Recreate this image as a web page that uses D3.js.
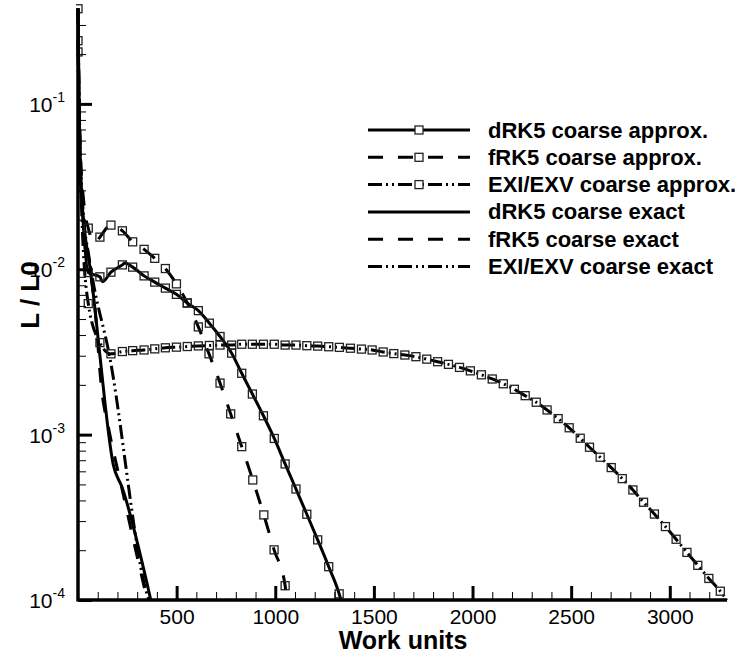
<!DOCTYPE html>
<html><head><meta charset="utf-8">
<script src="https://cdn.jsdelivr.net/npm/d3@7"></script>
<style>
body{margin:0;background:#fff}
svg{display:block}
text{font-family:"Liberation Sans",Arial,Helvetica,sans-serif;fill:#000}
</style>
</head><body>
<svg id="chart" width="749" height="658"></svg>
<script>
// [work units, L/L0, marker flag]
const dRK5Approx = [
  [0,0.376,1],[8,0.05,0],[25,0.02,0],[52,0.00955,1],[111,0.0090,1],[124,0.0084,0],[167,0.0096,1],
  [225,0.01063,1],[238,0.0109,0],[277,0.0103,1],[335,0.00912,1],[389,0.00836,1],[443,0.00769,1],
  [499,0.00705,1],[554,0.00624,1],[610,0.00562,1],[666,0.00472,1],[720,0.00392,1],[779,0.00311,1],
  [830,0.00235,1],[884,0.00176,1],[940,0.0013,1],[995,0.000948,1],[1050,0.000665,1],[1105,0.000469,1],
  [1160,0.00033,1],[1215,0.000231,1],[1271,0.000159,1],[1324,0.000109,1],[1333,0.0001,0]
];
const fRK5Approx = [
  [0,0.241,1],[10,0.06,0],[30,0.025,0],[52,0.01773,1],[88,0.0144,0],[111,0.01564,1],[167,0.01849,1],
  [225,0.01708,1],[277,0.01465,1],[335,0.01319,1],[389,0.01164,1],[443,0.0101,1],[499,0.00816,1],
  [554,0.00626,1],[610,0.00448,1],[664,0.00308,1],[720,0.00205,1],[774,0.001335,1],[830,0.000846,1],
  [886,0.000532,1],[942,0.000327,1],[994,0.000201,1],[1050,0.000122,1],[1060,0.0001,0]
];
const exiApprox = [
  [0,0.206,1],[20,0.02,0],[52,0.0062,1],[111,0.0036,1],[167,0.00308,1],[225,0.00318,1],[277,0.00322,1],
  [335,0.00325,1],[389,0.0033,1],[443,0.00335,1],[499,0.00338,1],[554,0.00341,1],[610,0.00344,1],
  [666,0.00346,1],[720,0.00348,1],[779,0.00348,1],[830,0.00352,1],[884,0.00352,1],[940,0.00352,1],
  [995,0.00352,1],[1050,0.00348,1],[1105,0.00348,1],[1160,0.00345,1],[1215,0.00343,1],[1271,0.0034,1],
  [1325,0.00337,1],[1381,0.00333,1],[1437,0.00329,1],[1491,0.00325,1],[1547,0.00316,1],[1601,0.00309,1],
  [1657,0.00303,1],[1713,0.00296,1],[1768,0.00286,1],[1823,0.00276,1],[1878,0.00266,1],[1934,0.00255,1],
  [1989,0.00243,1],[2045,0.0023,1],[2100,0.00217,1],[2156,0.00203,1],[2212,0.00188,1],[2267,0.00172,1],
  [2323,0.00157,1],[2378,0.00141,1],[2434,0.00125,1],[2490,0.0011,1],[2546,0.000951,1],[2593,0.000839,1],
  [2647,0.00073,1],[2703,0.000632,1],[2759,0.000542,1],[2813,0.000463,1],[2867,0.00039,1],[2922,0.000331,1],
  [2978,0.000278,1],[3032,0.000233,1],[3087,0.000194,1],[3142,0.000162,1],[3198,0.000135,1],[3256,0.000113,1],
  [3290,0.0001,0]
];
const dRK5Exact = [
  [0,0.376],[5,0.1],[10,0.0527],[20,0.0263],[61,0.0102],[81,0.00653],[108,0.00325],
  [179,0.000656],[222,0.000485],[369,0.0001]
];
const fRK5Exact = [
  [0,0.376],[5,0.1],[10,0.053],[20,0.027],[60,0.0105],[85,0.006],[120,0.00186],[154,0.00111],
  [222,0.000476],[289,0.000209],[351,0.0001]
];
const exiExact = [
  [0,0.376],[5,0.12],[12,0.05],[25,0.024],[55,0.012],[78,0.00824],[154,0.00325],[356,0.000103],[360,0.0001]
];

const seriesNames = [
  "dRK5 coarse approx.","fRK5 coarse approx.","EXI/EXV coarse approx.",
  "dRK5 coarse exact","fRK5 coarse exact","EXI/EXV coarse exact"
];
const xMajorTicks = [500,1000,1500,2000,2500,3000];
const xMinorTicks = [100,200,300,400,600,700,800,900,1100,1200,1300,1400,1600,1700,1800,1900,
  2100,2200,2300,2400,2600,2700,2800,2900,3100,3200];
const yMajorTicks = [1e-4,1e-3,1e-2,1e-1];
const yMajorExps = ["-4","-3","-2","-1"];
const yMinorTicks = [2e-4,3e-4,4e-4,5e-4,6e-4,7e-4,8e-4,9e-4,2e-3,3e-3,4e-3,5e-3,6e-3,7e-3,8e-3,9e-3,
  2e-2,3e-2,4e-2,5e-2,6e-2,7e-2,8e-2,9e-2,2e-1,3e-1];
const xTitle = "Work units";
const yTitle = "L / L0";

const svg = d3.select("#chart");
const x = d3.scaleLinear().domain([0,3290]).range([78,727]);
const y = d3.scaleLog().domain([1e-4,0.38]).range([600,8]);

const DASH = "15,15";
const DDOT = "14,4,2,4,2,4";
const styles = [
  {data:dRK5Approx, dash:null, marker:true},
  {data:fRK5Approx, dash:DASH, marker:true},
  {data:exiApprox, dash:DDOT, marker:true},
  {data:dRK5Exact, dash:null, marker:false},
  {data:fRK5Exact, dash:DASH, marker:false},
  {data:exiExact, dash:DDOT, marker:false}
];

svg.append("clipPath").attr("id","clip").append("rect")
  .attr("x",76).attr("y",0).attr("width",670).attr("height",602);

const line = d3.line().x(d=>x(d[0])).y(d=>y(d[1])).curve(d3.curveMonotoneX);
const plot = svg.append("g").attr("clip-path","url(#clip)");

styles.forEach(s=>{
  plot.append("path").datum(s.data).attr("d",line)
    .attr("fill","none").attr("stroke","#000").attr("stroke-width",3)
    .attr("stroke-dasharray",s.dash);
});
styles.forEach(s=>{
  if(!s.marker) return;
  plot.selectAll(null).data(s.data.filter(d=>d[2]===1)).enter().append("rect")
    .attr("x",d=>x(d[0])-4).attr("y",d=>y(d[1])-4).attr("width",8).attr("height",8)
    .attr("fill","none").attr("stroke","#222").attr("stroke-width",1.3);
});

// X axis
const gx = svg.append("g").attr("transform","translate(0,600)");
gx.call(d3.axisBottom(x).tickValues(xMajorTicks).tickSize(-14).tickSizeOuter(0).tickFormat(""));
gx.select(".domain").attr("stroke-width",3.5).attr("d","M78,0H727");
gx.selectAll(".tick line").attr("stroke-width",3);
const gxm = svg.append("g").attr("transform","translate(0,600)");
gxm.call(d3.axisBottom(x).tickValues(xMinorTicks).tickSize(-8).tickFormat(""));
gxm.select(".domain").remove();
gxm.selectAll(".tick line").attr("stroke-width",1);
gx.selectAll(".tick").append("text").attr("y",24).attr("text-anchor","middle")
  .style("font-size","21px").text(d=>d);

// Y axis
const gy = svg.append("g").attr("transform","translate(78,0)");
gy.call(d3.axisLeft(y).tickValues(yMajorTicks).tickSize(-14).tickSizeOuter(0).tickFormat(""));
gy.select(".domain").attr("stroke-width",3.5).attr("d","M0,8V601.5");
gy.selectAll(".tick line").attr("stroke-width",3);
const gym = svg.append("g").attr("transform","translate(78,0)");
gym.call(d3.axisLeft(y).tickValues(yMinorTicks).tickSize(-8).tickFormat(""));
gym.select(".domain").remove();
gym.selectAll(".tick line").attr("stroke-width",1);
gy.selectAll(".tick").each(function(d,i){
  const t = d3.select(this).append("text").attr("x",-13).attr("y",7.5)
    .attr("text-anchor","end").style("font-size","21px");
  t.append("tspan").text("10");
  t.append("tspan").attr("dy",-10).style("font-size","14px").text(yMajorExps[i]);
});

// Titles
svg.append("text").attr("x",403).attr("y",649).attr("text-anchor","middle")
  .style("font-size","25px").style("font-weight","bold").text(xTitle);
svg.append("text").attr("transform","translate(39,295) rotate(-90)").attr("text-anchor","middle")
  .style("font-size","26px").style("font-weight","bold").text(yTitle);

// Legend
const leg = svg.append("g");
seriesNames.forEach((name,i)=>{
  const ly = 130 + i*27.3;
  const s = styles[i];
  leg.append("line").attr("x1",368).attr("x2",470).attr("y1",ly).attr("y2",ly)
    .attr("stroke","#000").attr("stroke-width",3).attr("stroke-dasharray",s.dash);
  if(s.marker){
    leg.append("rect").attr("x",419-4).attr("y",ly-4).attr("width",8).attr("height",8)
      .attr("fill","#fff").attr("stroke","#222").attr("stroke-width",1.3);
  }
  leg.append("text").attr("x",488).attr("y",ly+7.5)
    .style("font-size","22px").style("font-weight","bold").text(name);
});
</script>
</body></html>
